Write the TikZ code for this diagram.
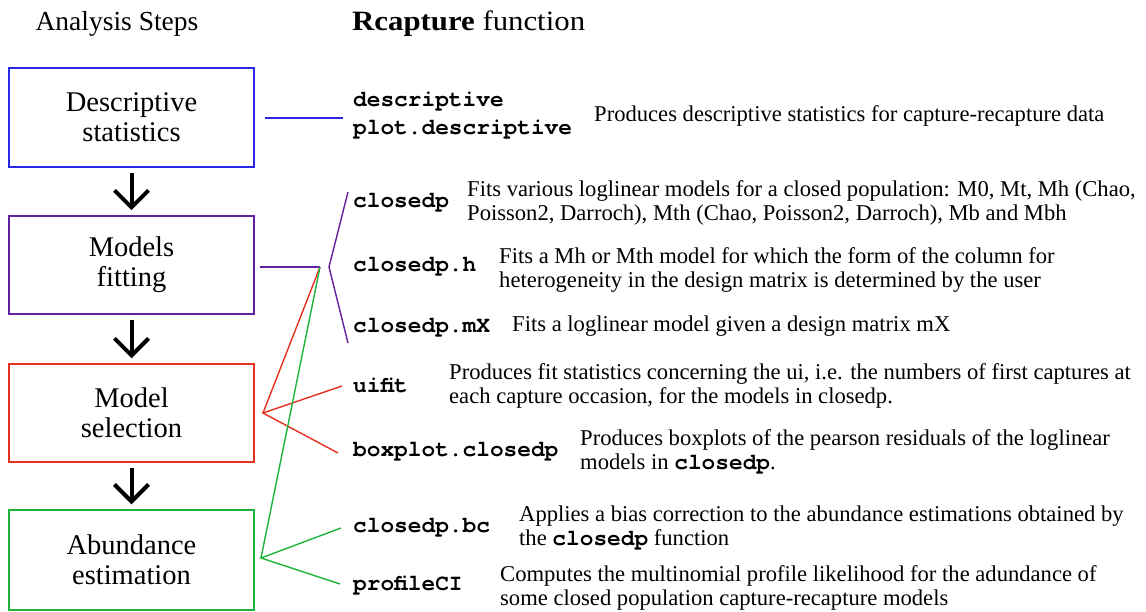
\documentclass[tikz,border=0pt]{standalone}
\usepackage{fontspec}
\setmainfont{Liberation Serif}
\setmonofont{TeX Gyre Cursor}
\usetikzlibrary{arrows.meta}
\definecolor{cblue}{RGB}{40,40,230}
\definecolor{cpurple}{RGB}{100,30,160}
\definecolor{cred}{RGB}{228,50,30}
\definecolor{cgreen}{RGB}{30,180,60}
\newcommand{\fnfont}{\fontsize{22.8}{24}\selectfont\ttfamily\bfseries}
\begin{document}
\begin{tikzpicture}[x=1pt,y=-1pt,
  stepbox/.style={draw, line width=1.5pt, minimum width=245pt, inner sep=0pt, align=center,
    font=\fontsize{28.5}{30}\selectfont},
  title/.style={font=\fontsize{27.5}{30}\selectfont},
  fn/.style={anchor=west, inner sep=0pt, font=\fnfont},
  desc/.style={anchor=west, inner sep=0pt, align=left, font=\fontsize{22.6}{23.5}\selectfont},
  bigarrow/.style={line width=4pt, -{Straight Barb[length=17pt,width=34pt]}, shorten <=5pt, shorten >=5pt},
  conn/.style={line width=1.4pt}
]
\useasboundingbox (0,0) rectangle (1146,612);

% titles
\node[title] (t1) at (117,24) {Analysis Steps};
\node[title, anchor=west, inner sep=0pt] (t2) at (352,24) {\scalebox{1.1}[1]{\fontsize{28}{30}\selectfont\textbf{Rcapture} function}};

% step boxes
\node[stepbox, draw=cblue, minimum height=99pt] (b1) at (131.5,117.5) {Descriptive\\statistics};
\node[stepbox, draw=cpurple, minimum height=98pt] (b2) at (131.5,265) {Models\\fitting};
\node[stepbox, draw=cred, minimum height=98pt] (b3) at (131.5,413) {Model\\selection};
\node[stepbox, draw=cgreen, minimum height=100pt] (b4) at (131.5,560) {Abundance\\estimation};

\draw[bigarrow] (b1.south) -- (b2.north);
\draw[bigarrow] (b2.south) -- (b3.north);
\draw[bigarrow] (b3.south) -- (b4.north);

% function names
\node[fn] (f1) at (353,102) {descriptive};
\node[fn] (f2) at (353,130) {plot.descriptive};
\node[fn] (f3) at (353,203) {closedp};
\node[fn] (f4) at (353,267) {closedp.h};
\node[fn] (f5) at (353,328) {closedp.mX};
\node[fn] (f6) at (353,385) {uifit};
\node[fn] (f7) at (353,452) {boxplot.closedp};
\node[fn] (f8) at (353,528) {closedp.bc};
\node[fn] (f9) at (353,586) {profileCI};

% descriptions
\node[desc] (d1) at (594,116) {Produces descriptive statistics for capture-recapture data};
\node[desc] (d3) at (467,203) {Fits various loglinear models for a closed population: M0, Mt, Mh (Chao,\\Poisson2, Darroch), Mth (Chao, Poisson2, Darroch), Mb and Mbh};
\node[desc] (d4) at (499,270) {Fits a Mh or Mth model for which the form of the column for\\heterogeneity in the design matrix is determined by the user};
\node[desc] (d5) at (512,326) {Fits a loglinear model given a design matrix mX};
\node[desc] (d6) at (449,386) {Produces fit statistics concerning the ui, i.e. the numbers of first captures at\\each capture occasion, for the models in closedp.};
\node[desc] (d7) at (580,452) {Produces boxplots of the pearson residuals of the loglinear\\models in {\fnfont closedp}.};
\node[desc] (d8) at (519,528) {Applies a bias correction to the abundance estimations obtained by\\the {\fnfont closedp} function};
\node[desc] (d9) at (500,588) {Computes the multinomial profile likelihood for the adundance of\\some closed population capture-recapture models};

% connector coordinates
\coordinate (bl1) at (265,118);
\coordinate (bl2) at (343,118);
\coordinate (pu1) at (260,267);
\coordinate (hub) at (320,267);
\coordinate (br1) at (348,192);
\coordinate (brv) at (329,267);
\coordinate (br2) at (348,343);
\coordinate (rv) at (263,413);
\coordinate (r1) at (342,386);
\coordinate (r2) at (338,453);
\coordinate (gv) at (261,558);
\coordinate (g1) at (341,528);
\coordinate (g2) at (340,584);

\draw[conn, cblue] (bl1) -- (bl2);
\draw[conn, cpurple] (pu1) -- (hub);
\draw[conn, cpurple] (br1) -- (brv) -- (br2);
\draw[conn, cred] (hub) -- (rv);
\draw[conn, cred] (r1) -- (rv) -- (r2);
\draw[conn, cgreen] (hub) -- (gv);
\draw[conn, cgreen] (g1) -- (gv) -- (g2);
\end{tikzpicture}
\end{document}
